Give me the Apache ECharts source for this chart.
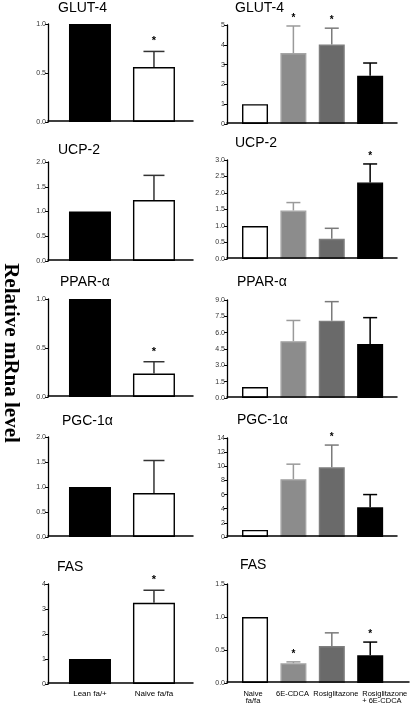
<!DOCTYPE html>
<html>
<head>
<meta charset="utf-8">
<script src="https://cdn.jsdelivr.net/npm/echarts@6/dist/echarts.min.js"></script>
<style>
html,body{margin:0;padding:0;background:#fff;}
#chart{width:410px;height:705px;}
</style>
</head>
<body>
<div id="chart"></div>
<script>
// ---------- Data ----------
const genes = ['GLUT-4', 'UCP-2', 'PPAR-α', 'PGC-1α', 'FAS'];
const leftCats = ['Lean fa/+', 'Naive fa/fa'];
const rightCats = ['Naive\nfa/fa', '6E-CDCA', 'Rosiglitazone', 'Rosiglitazone\n+ 6E-CDCA'];

// Left column (Lean fa/+ vs Naive fa/fa): means, upper error-bar ends, significance
const glut4Left = [1, 0.56];
const glut4LeftErr = [null, 0.72];
const glut4LeftSig = [0, 1];
const ucp2Left = [1, 1.23];
const ucp2LeftErr = [null, 1.73];
const ucp2LeftSig = [0, 0];
const pparLeft = [1, 0.24];
const pparLeftErr = [null, 0.36];
const pparLeftSig = [0, 1];
const pgcLeft = [1, 0.88];
const pgcLeftErr = [null, 1.53];
const pgcLeftSig = [0, 0];
const fasLeft = [1, 3.25];
const fasLeftErr = [null, 3.75];
const fasLeftSig = [0, 1];

// Right column (Naive, 6E-CDCA, Rosiglitazone, Rosiglitazone + 6E-CDCA)
const glut4Right = [1, 3.58, 4.01, 2.44];
const glut4RightErr = [null, 4.95, 4.84, 3.08];
const glut4RightSig = [0, 1, 1, 0];
const ucp2Right = [1, 1.47, 0.61, 2.32];
const ucp2RightErr = [null, 1.71, 0.93, 2.88];
const ucp2RightSig = [0, 0, 0, 1];
const pparRight = [1, 5.22, 7.1, 4.97];
const pparRightErr = [null, 7.12, 8.85, 7.38];
const pparRightSig = [0, 0, 0, 0];
const pgcRight = [1, 8.18, 9.85, 4.2];
const pgcRightErr = [null, 10.3, 13.0, 6.0];
const pgcRightSig = [0, 0, 1, 0];
const fasRight = [1, 0.30, 0.56, 0.42];
const fasRightErr = [null, 0.32, 0.76, 0.62];
const fasRightSig = [0, 1, 0, 1];

// Y axis ticks
const leftYMax = [1.0, 2.0, 1.0, 2.0, 4];
const leftYStep = [0.5, 0.5, 0.5, 0.5, 1];
const leftYDec = [1, 1, 1, 1, 0];
const rightYMax = [5, 3.0, 9.0, 14, 1.5];
const rightYStep = [1, 0.5, 1.5, 2, 0.5];
const rightYDec = [0, 1, 1, 0, 1];

const leftVals = [glut4Left, ucp2Left, pparLeft, pgcLeft, fasLeft];
const leftErrs = [glut4LeftErr, ucp2LeftErr, pparLeftErr, pgcLeftErr, fasLeftErr];
const leftSigs = [glut4LeftSig, ucp2LeftSig, pparLeftSig, pgcLeftSig, fasLeftSig];
const rightVals = [glut4Right, ucp2Right, pparRight, pgcRight, fasRight];
const rightErrs = [glut4RightErr, ucp2RightErr, pparRightErr, pgcRightErr, fasRightErr];
const rightSigs = [glut4RightSig, ucp2RightSig, pparRightSig, pgcRightSig, fasRightSig];

// ---------- Styles / layout ----------
const leftFill = ['#000000', '#ffffff'];
const leftErrCol = ['#000000', '#333333'];
const rightFill = ['#ffffff', '#8c8c8c', '#6a6a6a', '#000000'];
const rightBorder = ['#000000', '#a5a5a5', '#7e7e7e', '#000000'];
const rightErrCol = ['#000000', '#9a9a9a', '#7a7a7a', '#000000'];
const rightLabelDx = [-2, -1, 4, -8];
const rightLabelAlign = ['center', 'center', 'center', 'left'];

const leftGrid = [[24, 122], [162, 261], [299, 397], [437, 537], [584, 684]];
const rightGrid = [[25, 124], [160, 259], [300, 398], [438, 537], [584, 683]];
const leftTitlePos = [[58, 1], [58, 143], [60, 275], [62, 414], [57, 560]];
const rightTitlePos = [[235, 1], [235, 136], [237, 275], [237, 413], [240, 558]];

const FONT = 'Liberation Sans, Arial, sans-serif';

const grids = [], xAxes = [], yAxes = [], series = [], titles = [];

function errSeries(idx, vals, errs, colors, capHalf) {
  const data = vals.map((v, i) => [i + 1, v, errs[i] == null ? v : errs[i]]);
  return {
    type: 'custom', xAxisIndex: idx, yAxisIndex: idx, z: 5, clip: false,
    encode: { x: 0, y: [1, 2] },
    data: data,
    renderItem: function (params, api) {
      const x = api.value(0), m = api.value(1), e = api.value(2);
      if (!(e > m)) return null;
      const p0 = api.coord([x, m]);
      const p1 = api.coord([x, e]);
      const st = { stroke: colors[params.dataIndex], lineWidth: 1.5 };
      return {
        type: 'group', children: [
          { type: 'line', shape: { x1: p0[0], y1: p0[1], x2: p1[0], y2: p1[1] }, style: st },
          { type: 'line', shape: { x1: p1[0] - capHalf, y1: p1[1], x2: p1[0] + capHalf, y2: p1[1] }, style: st }
        ]
      };
    }
  };
}

function starSeries(idx, vals, errs, sigs, size, gap) {
  const data = vals.map((v, i) => [i + 1, errs[i] == null ? v : errs[i], sigs[i]]);
  return {
    type: 'custom', xAxisIndex: idx, yAxisIndex: idx, z: 6, clip: false,
    encode: { x: 0, y: 1 },
    data: data,
    renderItem: function (params, api) {
      if (!api.value(2)) return null;
      const p = api.coord([api.value(0), api.value(1)]);
      return {
        type: 'text',
        style: {
          x: p[0], y: p[1] - gap, text: '*', fill: '#000',
          font: 'bold ' + size + 'px ' + FONT, align: 'center', verticalAlign: 'middle'
        }
      };
    }
  };
}

// category labels under the right-hand FAS panel, placed via the axis scale
function rightLabelSeries(idx) {
  return {
    type: 'custom', xAxisIndex: idx, yAxisIndex: idx, z: 6, clip: false,
    encode: { x: 0, y: 1 },
    data: rightCats.map((c, i) => [i + 1, 0]),
    renderItem: function (params, api) {
      const i = params.dataIndex;
      const p = api.coord([api.value(0), 0]);
      return {
        type: 'text',
        style: {
          x: p[0] + rightLabelDx[i], y: p[1] + 8, text: rightCats[i], fill: '#000',
          font: '7.5px ' + FONT, lineHeight: 6.5,
          align: rightLabelAlign[i], verticalAlign: 'top'
        }
      };
    }
  };
}

function addPanel(col, row) {
  const isLeft = col === 0;
  const idx = grids.length;
  const g = isLeft ? leftGrid[row] : rightGrid[row];
  const last = row === 4;
  const left = isLeft ? 48 : 227;
  const width = isLeft ? 145 : (last ? 182 : 170);
  grids.push({ left: left, top: g[0], width: width, height: g[1] - g[0], containLabel: false });
  const cats = isLeft ? leftCats : rightCats;
  xAxes.push({
    gridIndex: idx, type: 'value', z: 10, offset: -1,
    min: isLeft ? 0.344 : 0.27, max: isLeft ? 2.61 : (last ? 5.01 : 4.7),
    axisLine: { show: true, onZero: false, lineStyle: { color: '#000', width: 1.5 } },
    axisTick: { show: false },
    splitLine: { show: false },
    axisLabel: {
      show: last && isLeft,
      customValues: cats.map((c, i) => i + 1),
      formatter: v => cats[Math.round(v) - 1] || '',
      fontSize: 8, color: '#000', fontFamily: FONT,
      margin: 7, showMinLabel: true, showMaxLabel: true, hideOverlap: false
    }
  });
  const ymax = isLeft ? leftYMax[row] : rightYMax[row];
  const ystep = isLeft ? leftYStep[row] : rightYStep[row];
  const ydec = isLeft ? leftYDec[row] : rightYDec[row];
  yAxes.push({
    gridIndex: idx, type: 'value', min: 0, max: ymax, interval: ystep, z: 10,
    axisLine: { show: true, lineStyle: { color: '#000', width: 1.3 } },
    axisTick: { show: true, length: 3, lineStyle: { color: '#000', width: 1 } },
    splitLine: { show: false },
    axisLabel: {
      fontSize: 7, color: '#333', fontFamily: FONT, margin: 2,
      formatter: v => v.toFixed(ydec)
    }
  });
  const vals = isLeft ? leftVals[row] : rightVals[row];
  const errs = isLeft ? leftErrs[row] : rightErrs[row];
  const sigs = isLeft ? leftSigs[row] : rightSigs[row];
  const fill = isLeft ? leftFill : rightFill;
  const border = isLeft ? ['#000', '#000'] : rightBorder;
  series.push({
    type: 'bar', xAxisIndex: idx, yAxisIndex: idx, z: 4,
    barWidth: isLeft ? 42 : 26,
    data: vals.map((v, i) => ({
      value: [i + 1, v],
      itemStyle: { color: fill[i], borderColor: border[i], borderWidth: 1.4 }
    }))
  });
  series.push(errSeries(idx, vals, errs, isLeft ? leftErrCol : rightErrCol, isLeft ? 10.5 : 7));
  series.push(starSeries(idx, vals, errs, sigs, isLeft ? 11 : 10, isLeft ? 10 : 8));
  if (last && !isLeft) series.push(rightLabelSeries(idx));
  const tp = isLeft ? leftTitlePos[row] : rightTitlePos[row];
  titles.push({
    text: genes[row], left: tp[0], top: tp[1], padding: 0,
    textStyle: { fontSize: 14, fontWeight: 'normal', color: '#000', fontFamily: FONT }
  });
}

for (let r = 0; r < 5; r++) { addPanel(0, r); addPanel(1, r); }

const chart = echarts.init(document.getElementById('chart'), null, { renderer: 'canvas' });
chart.setOption({
  animation: false,
  backgroundColor: '#fff',
  title: titles,
  grid: grids,
  xAxis: xAxes,
  yAxis: yAxes,
  series: series,
  graphic: [{
    type: 'text', x: 10, y: 353, rotation: -Math.PI / 2,
    style: {
      text: 'Relative mRna level', fill: '#000',
      font: 'bold 21px "Liberation Serif", "Times New Roman", serif',
      align: 'center', verticalAlign: 'middle'
    }
  }]
});
</script>
</body>
</html>
